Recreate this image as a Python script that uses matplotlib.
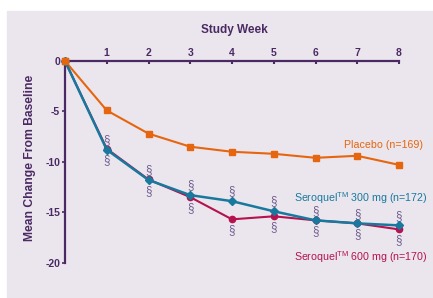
"""
Mean change from baseline by study week, three treatment arms
"""
import matplotlib
matplotlib.use("Agg")
from matplotlib import pyplot as plt
from matplotlib.patches import Rectangle

plt.rcParams["font.family"] = ["Liberation Sans", "DejaVu Sans"]
plt.rcParams["mathtext.fontset"] = "custom"
plt.rcParams["mathtext.rm"] = "Liberation Sans"

weeks = [0, 1, 2, 3, 4, 5, 6, 7, 8]
placebo = [0, -4.9, -7.2, -8.5, -9.0, -9.2, -9.6, -9.4, -10.3]
sero300 = [0, -8.8, -11.8, -13.3, -13.9, -14.9, -15.8, -16.1, -16.3]
sero600 = [0, -8.7, -11.75, -13.5, -15.7, -15.4, -15.8, -16.1, -16.7]
sig_weeks = [1, 2, 3, 4, 5, 6, 7, 8]
y_ticks = [0, -5, -10, -15, -20]

ORANGE = "#e6650f"
BLUE = "#17799e"
CRIMSON = "#b5124f"
PURPLE = "#4b2a63"
SECT = "#6e5b8e"
BG = "#ebe6ed"

fig = plt.figure(figsize=(4.33, 2.98), dpi=100, facecolor="white")
fig.patches.append(Rectangle((7 / 433, 0), 1, 1 - 11 / 298,
                             transform=fig.transFigure, color=BG, zorder=-10))

ax = fig.add_axes([65 / 433, (298 - 262.7) / 298, 334 / 433, (262.7 - 61) / 298])
ax.set_zorder(2)
ax.set_facecolor("none")
ax.set_xlim(0, 8)
ax.set_ylim(-20, 0)

for s in ("right", "bottom"):
    ax.spines[s].set_visible(False)
for s in ("left", "top"):
    ax.spines[s].set_color(PURPLE)
    ax.spines[s].set_linewidth(1.6)

ax.xaxis.tick_top()
ax.set_xticks(sig_weeks)
ax.set_xticklabels([str(w) for w in sig_weeks])
ax.set_yticks(y_ticks)
ax.set_yticklabels([str(v) for v in y_ticks])
ax.tick_params(axis="x", direction="in", length=2.5, width=1.5, color=PURPLE,
               labelsize=7.5, labelcolor=PURPLE, pad=2)
ax.tick_params(axis="y", direction="out", length=2.5, width=1.2, color=PURPLE,
               labelsize=7.5, labelcolor=PURPLE, pad=1)
for lab in ax.get_xticklabels() + ax.get_yticklabels():
    lab.set_fontweight("bold")

ax.plot(weeks, placebo, color=ORANGE, lw=1.5, marker="s", ms=4.5,
        clip_on=False, zorder=3)
ax.plot(weeks, sero600, color=CRIMSON, lw=1.5, marker="o", ms=4.5,
        clip_on=False, zorder=4)
ax.plot(weeks, sero300, color=BLUE, lw=1.8, marker="D", ms=3.8,
        clip_on=False, zorder=5)
# redraw baseline marker on top
ax.plot([weeks[0]], [placebo[0]], color=ORANGE, marker="s", ms=5,
        clip_on=False, zorder=6)

# significance marks above 300 mg and below 600 mg
for w in sig_weeks:
    ax.annotate("§", (w, sero300[w]), xytext=(0, 7), textcoords="offset points",
                ha="center", va="center", fontsize=8.3, color=SECT)
    ax.annotate("§", (w, sero600[w]), xytext=(0, -8), textcoords="offset points",
                ha="center", va="center", fontsize=8.3, color=SECT)

ax.text(8.57, -8.35, "Placebo (n=169)", color=ORANGE, fontsize=7.7,
        ha="right", va="center")
ax.text(8.67, -13.55, r"Seroquel$^{\rm TM}$ 300 mg (n=172)", color=BLUE,
        fontsize=7.7, ha="right", va="center")
ax.text(8.67, -19.4, r"Seroquel$^{\rm TM}$ 600 mg (n=170)", color=CRIMSON,
        fontsize=7.7, ha="right", va="center")

fig.text(234 / 433, 1 - 30 / 298, "Study Week", color=PURPLE, fontsize=8.5,
         fontweight="bold", ha="center", va="center")
fig.text(30 / 433, 1 - 158 / 298, "Mean Change From Baseline", color=PURPLE,
         fontsize=8.7, fontweight="bold", rotation=90, ha="center", va="center")

fig.savefig("out.png", dpi=100, facecolor=fig.get_facecolor())
